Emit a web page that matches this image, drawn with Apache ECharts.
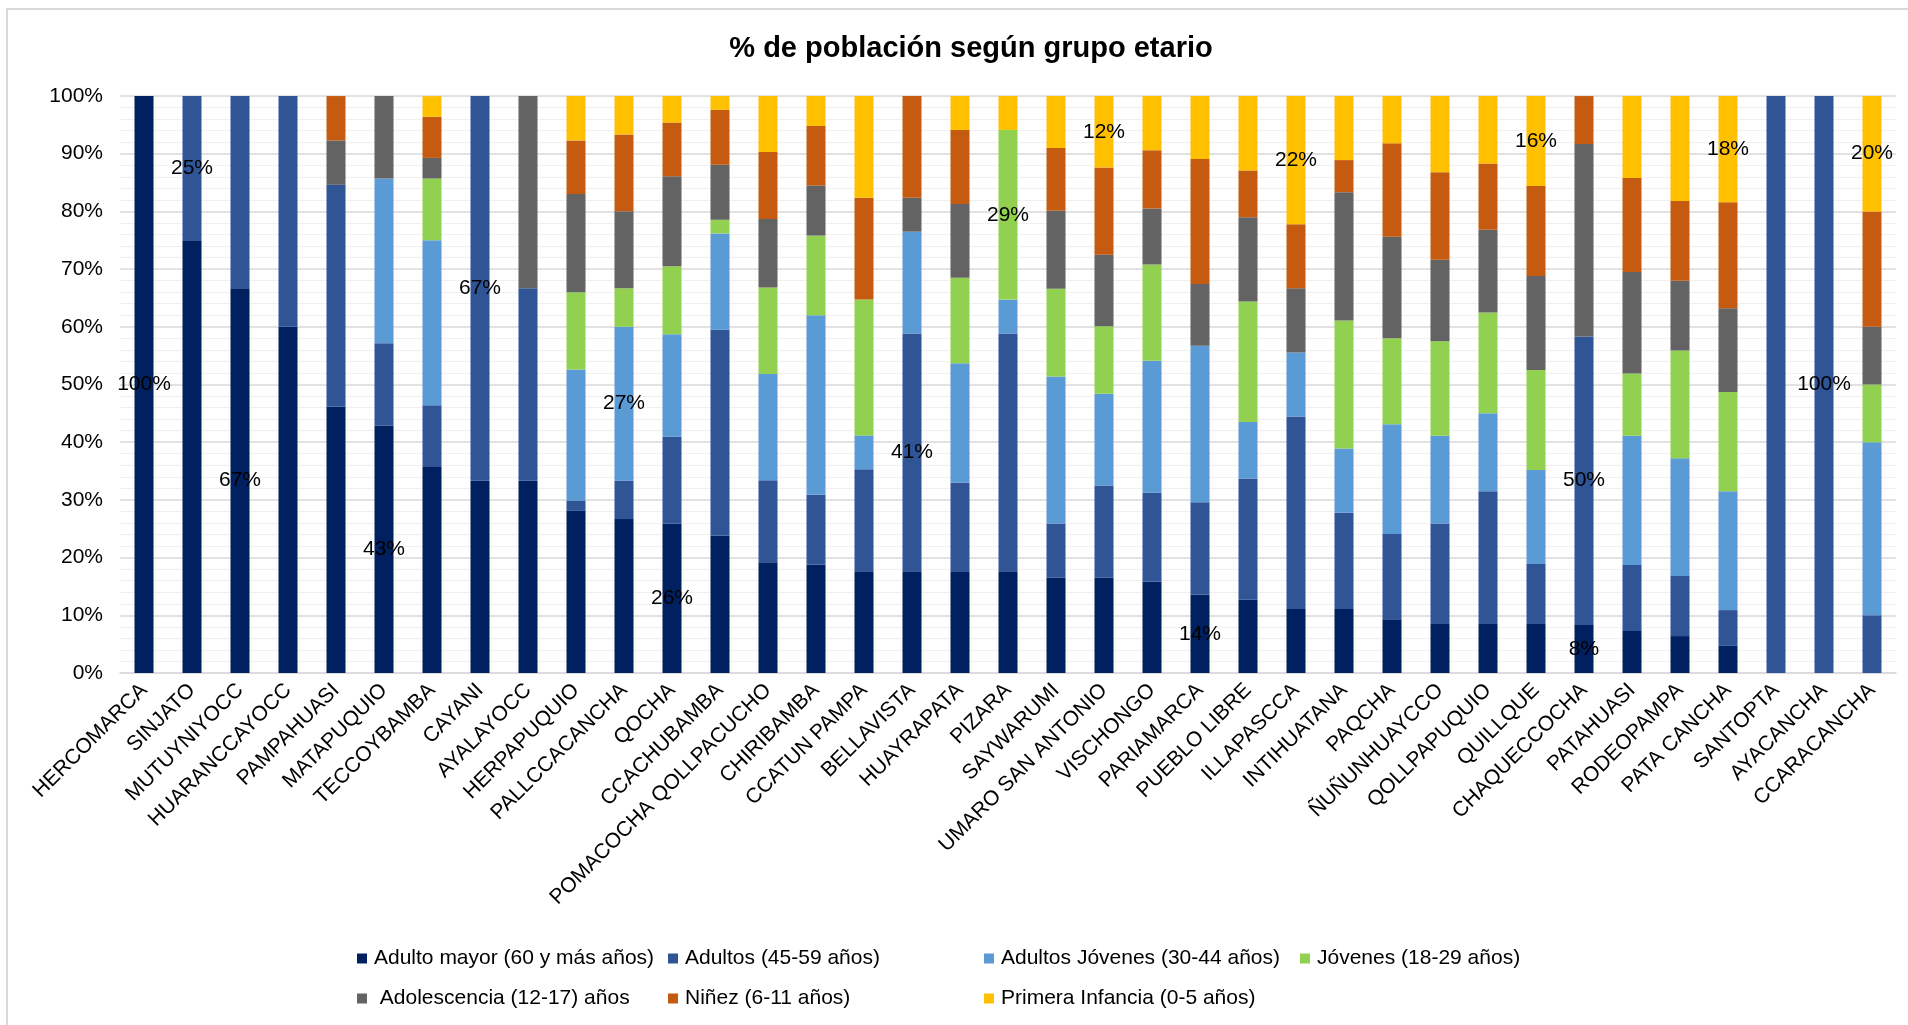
<!DOCTYPE html>
<html>
<head>
<meta charset="utf-8">
<title>% de población según grupo etario</title>
<script src="https://cdn.jsdelivr.net/npm/echarts@6/dist/echarts.min.js"></script>
<style>
    html, body { margin: 0; padding: 0; background: #fff; }
    #chart { width: 1908px; height: 1025px; }
</style>
</head>
<body>
<div id="chart"></div>
<script>
// Comunidades (eje X)
const comunidades = ['HERCOMARCA', 'SINJATO', 'MUTUYNIYOCC', 'HUARANCCAYOCC', 'PAMPAHUASI', 'MATAPUQUIO', 'TECCOYBAMBA', 'CAYANI', 'AYALAYOCC', 'HERPAPUQUIO', 'PALLCCACANCHA', 'QOCHA', 'CCACHUBAMBA', 'POMACOCHA QOLLPACUCHO', 'CHIRIBAMBA', 'CCATUN PAMPA', 'BELLAVISTA', 'HUAYRAPATA', 'PIZARA', 'SAYWARUMI', 'UMARO SAN ANTONIO', 'VISCHONGO', 'PARIAMARCA', 'PUEBLO LIBRE', 'ILLAPASCCA', 'INTIHUATANA', 'PAQCHA', 'ÑUÑUNHUAYCCO', 'QOLLPAPUQUIO', 'QUILLQUE', 'CHAQUECCOCHA', 'PATAHUASI', 'RODEOPAMPA', 'PATA CANCHA', 'SANTOPTA', 'AYACANCHA', 'CCARACANCHA'];

// % por grupo etario, en el orden de las comunidades
const adultoMayor      = [100, 75, 66.67, 60, 46.15, 42.86, 35.71, 33.33, 33.33, 28.1, 26.67, 25.9, 23.81, 19.2, 18.8, 17.65, 17.65, 17.5, 17.65, 16.5, 16.5, 15.8, 13.6, 12.7, 11.11, 11.11, 9.3, 8.5, 8.5, 8.5, 8.33, 7.3, 6.4, 4.7, 0, 0, 0];
const adultos          = [0, 25, 33.33, 40, 38.46, 14.29, 10.71, 66.67, 33.33, 1.8, 6.67, 15.1, 35.71, 14.2, 12.1, 17.65, 41.18, 15.5, 41.18, 9.4, 16.0, 15.5, 16.0, 21.0, 33.33, 16.67, 14.8, 17.4, 23.0, 10.4, 50, 11.4, 10.4, 6.2, 100, 100, 10];
const adultosJovenes   = [0, 0, 0, 0, 0, 28.57, 28.57, 0, 0, 22.7, 26.67, 17.7, 16.67, 18.4, 31.1, 5.88, 17.65, 20.7, 5.88, 25.5, 15.9, 22.8, 27.1, 9.8, 11.11, 11.11, 19.0, 15.2, 13.5, 16.3, 0, 22.4, 20.4, 20.6, 0, 0, 30];
const jovenes          = [0, 0, 0, 0, 0, 0, 10.71, 0, 0, 13.4, 6.67, 11.8, 2.38, 15.0, 13.8, 23.53, 0, 14.8, 29.41, 15.2, 11.7, 16.7, 0, 20.9, 0, 22.22, 14.9, 16.4, 17.5, 17.3, 0, 10.8, 18.7, 17.2, 0, 0, 10];
const adolescencia     = [0, 0, 0, 0, 7.69, 14.29, 3.57, 0, 33.33, 17.0, 13.33, 15.6, 9.52, 11.9, 8.7, 0, 5.88, 12.8, 0, 13.5, 12.4, 9.7, 10.7, 14.6, 11.11, 22.22, 17.6, 14.1, 14.3, 16.3, 33.33, 17.6, 12.1, 14.5, 0, 0, 10];
const ninez            = [0, 0, 0, 0, 7.69, 0, 7.14, 0, 0, 9.3, 13.33, 9.3, 9.52, 11.6, 10.3, 17.65, 17.65, 12.8, 0, 10.9, 15.1, 10.1, 21.7, 8.1, 11.11, 5.56, 16.2, 15.2, 11.5, 15.6, 8.33, 16.3, 13.8, 18.4, 0, 0, 20];
const primeraInfancia  = [0, 0, 0, 0, 0, 0, 3.57, 0, 0, 7.7, 6.67, 4.6, 2.38, 9.7, 5.2, 17.65, 0, 5.9, 5.88, 9.0, 12.4, 9.4, 10.9, 12.9, 22.22, 11.11, 8.2, 13.2, 11.7, 15.6, 0, 14.2, 18.2, 18.4, 0, 0, 20];

const grupos = ['Adulto mayor (60 y más años)', 'Adultos (45-59 años)', 'Adultos Jóvenes (30-44 años)', 'Jóvenes (18-29 años)', 'Adolescencia (12-17) años', 'Niñez (6-11 años)', 'Primera Infancia (0-5 años)'];
const valores = [adultoMayor, adultos, adultosJovenes, jovenes, adolescencia, ninez, primeraInfancia];
const colores = ['#002060', '#2F5597', '#5B9BD5', '#92D050', '#636363', '#C55A11', '#FFC000'];

// Etiquetas visibles: [índice de comunidad, índice de grupo]
const etiquetas = [[0, 0], [1, 1], [2, 0], [5, 0], [7, 1], [10, 2], [11, 0], [16, 1], [18, 3], [20, 6], [22, 0], [24, 6], [29, 6], [30, 0], [30, 1], [33, 6], [35, 1], [36, 6]];

const yTicks = [0, 10, 20, 30, 40, 50, 60, 70, 80, 90, 100];

const FONT = "'Liberation Sans', Arial, sans-serif";
const FS = 21;

const series = grupos.map((g, si) => ({
    name: g,
    type: 'bar',
    stack: 'total',
    barWidth: 19,
    itemStyle: { color: colores[si] },
    data: valores[si].map((v, ci) => {
        const show = etiquetas.some(e => e[0] === ci && e[1] === si);
        return show ? { value: v, label: { show: true } } : v;
    }),
    label: {
        show: false,
        position: 'inside',
        color: '#000',
        fontFamily: FONT,
        fontSize: FS,
        formatter: p => Math.round(p.value) + '%'
    }
}));

// Leyenda en dos filas, cada elemento en su columna
const legendPos = [[352, 943], [663, 943], [979, 943], [1295, 943], [352, 983], [663, 983], [979, 983]];
const legends = grupos.map((g, i) => ({
    data: [g],
    left: legendPos[i][0],
    top: legendPos[i][1],
    icon: 'rect',
    itemWidth: 10,
    itemHeight: 10,
    itemGap: 0,
    selectedMode: false,
    formatter: name => (i === 4 ? ' ' : '') + name,
    textStyle: { color: '#000', fontFamily: FONT, fontSize: FS, padding: [0, 0, 0, 2] }
}));

const chart = echarts.init(document.getElementById('chart'), null, { renderer: 'canvas' });
chart.setOption({
    backgroundColor: '#fff',
    animation: false,
    title: {
        text: '% de población según grupo etario',
        left: 966,
        top: 29,
        textAlign: 'center',
        textStyle: { color: '#000', fontFamily: FONT, fontSize: 29, fontWeight: 'bold' }
    },
    legend: legends,
    grid: { left: 120, right: 12, top: 96, bottom: 352, containLabel: false },
    xAxis: {
        type: 'category',
        data: comunidades,
        axisTick: { show: false },
        axisLine: { lineStyle: { color: '#d9d9d9', width: 1.5 } },
        axisLabel: { rotate: 45, interval: 0, margin: 14, color: '#000', fontFamily: FONT, fontSize: FS }
    },
    yAxis: {
        type: 'value',
        min: yTicks[0],
        max: yTicks[yTicks.length - 1],
        interval: 10,
        axisLine: { show: false },
        axisTick: { show: false },
        axisLabel: { color: '#000', fontFamily: FONT, fontSize: FS, margin: 17, formatter: v => v + '%' },
        splitLine: { lineStyle: { color: '#d9d9d9', width: 1.5 } },
        minorTick: { show: false, splitNumber: 5 },
        minorSplitLine: { show: true, lineStyle: { color: '#f0f0f0', width: 1 } }
    },
    graphic: [{
        type: 'rect',
        shape: { x: 7, y: 9, width: 1920, height: 1030 },
        style: { fill: 'none', stroke: '#d9d9d9', lineWidth: 2 },
        silent: true,
        z: -1
    }],
    series
});
</script>
</body>
</html>
